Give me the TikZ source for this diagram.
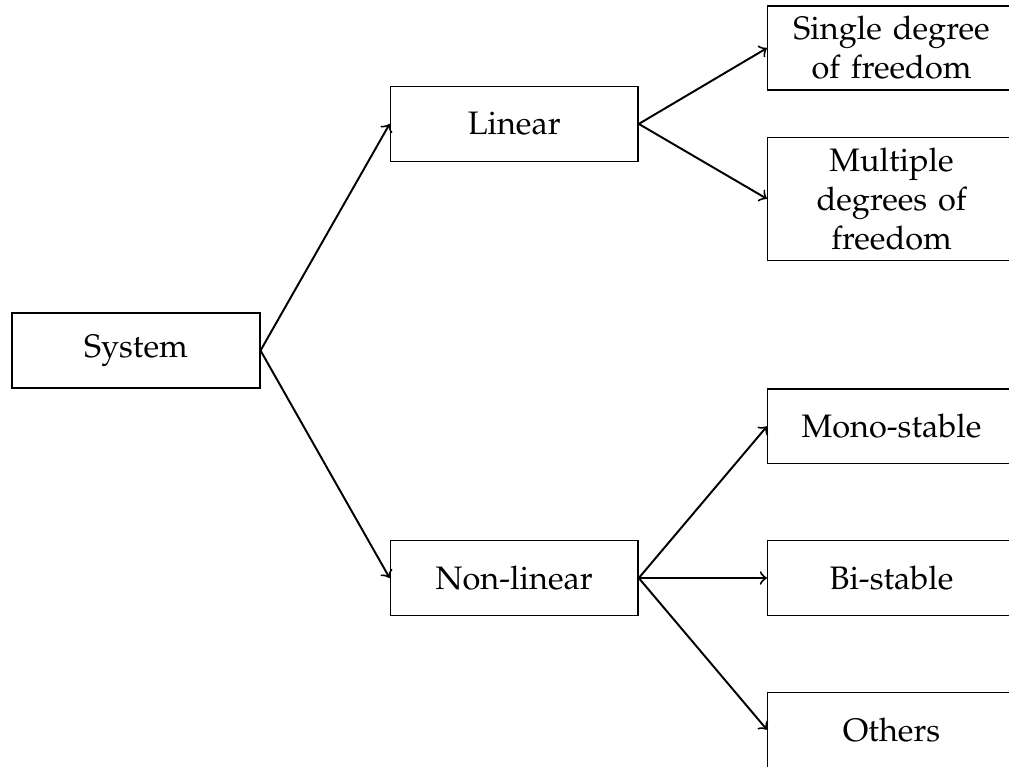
\documentclass[tikz,border=0pt]{standalone}
\usepackage[T1]{fontenc}
\usepackage{mathpazo}
\begin{document}
\begin{tikzpicture}[box/.style={rectangle, draw, text width=2.3cm, align=center, inner xsep=0.19cm, inner ysep=3.2pt, minimum height=0.81cm}]
  \useasboundingbox (-1.47, -4.5) rectangle (9.44, 3.79);
  % Nodes
  \node (system) [box] at (0, 0) {System};
  \node (linear) [box] at (4.09, 2.45) {Linear};
  \node (nonlinear) [box] at (4.09, -2.46) {Non-linear};
  \node (single) [box] at (8.17, 3.27) {Single degree of freedom};
  \node (multiple) [box] at (8.17, 1.64) {Multiple degrees of freedom};
  \node (mono) [box] at (8.17, -0.82) {Mono-stable};
  \node (bi) [box] at (8.17, -2.46) {Bi-stable};
  \node (others) [box] at (8.17, -4.1) {Others};
  % Arrows
  \draw[->, semithick] (system.east) -- (linear.west);
  \draw[->, semithick] (system.east) -- (nonlinear.west);
  \draw[->, semithick] (linear.east) -- (single.west);
  \draw[->, semithick] (linear.east) -- (multiple.west);
  \draw[->, semithick] (nonlinear.east) -- (mono.west);
  \draw[->, semithick] (nonlinear.east) -- (bi.west);
  \draw[->, semithick] (nonlinear.east) -- (others.west);
\end{tikzpicture}
\end{document}
